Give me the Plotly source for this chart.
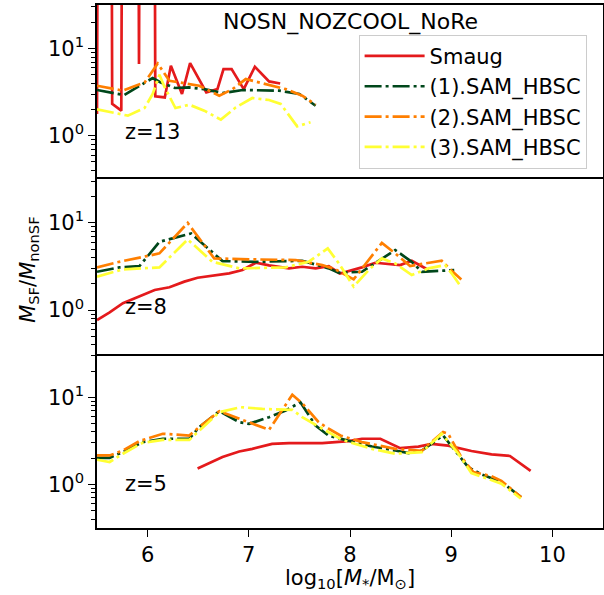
import plotly.graph_objects as go
from plotly.subplots import make_subplots

BIG = 1e30  # values far above the axis (drawn as vertical spikes)

# ---------------- z = 13 ----------------
x_smaug_z13 = [5.50, 5.58, 5.65, 5.74, 5.83, 5.915, 6.00, 6.076, 6.17, 6.23, 6.34, 6.42,
               6.58, 6.69, 6.75, 6.83, 6.95, 7.06, 7.20, 7.31]
y_smaug_z13 = [1.78, BIG, 2.32, 1.94, BIG, 6.64, BIG, 2.83, 2.75, 6.34, 3.01, 6.81,
               3.14, 3.43, 5.82, 5.82, 3.43, 6.18, 4.20, 3.98]
x_sam1_z13 = [5.50, 5.77, 5.95, 6.05, 6.13, 6.27, 6.41, 6.56, 6.74, 6.94, 7.30, 7.50, 7.66]
y_sam1_z13 = [3.35, 2.93, 3.92, 4.59, 4.08, 3.53, 3.58, 3.43, 3.09, 3.35, 3.29, 3.01, 2.21]
x_sam2_z13 = [5.50, 5.756, 5.97, 6.10, 6.216, 6.41, 6.51, 6.708, 6.84, 6.97, 7.10, 7.364, 7.528, 7.66]
y_sam2_z13 = [3.75, 3.29, 4.08, 6.74, 4.27, 3.92, 3.75, 2.88, 3.43, 4.47, 4.08, 3.43, 2.88, 2.27]
x_sam3_z13 = [5.50, 5.805, 5.97, 6.05, 6.117, 6.166, 6.275, 6.412, 6.56, 6.724, 6.872, 7.035,
              7.20, 7.315, 7.478, 7.61]
y_sam3_z13 = [2.01, 1.70, 2.08, 3.01, 5.00, 3.65, 2.08, 2.27, 1.94, 1.53, 2.12, 2.71,
              2.57, 2.32, 1.28, 1.43]

# ---------------- z = 8 ----------------
x_smaug_z8 = [5.50, 5.625, 5.756, 5.92, 6.07, 6.216, 6.363, 6.494, 6.658, 6.806, 6.937, 7.07,
              7.20, 7.397, 7.528, 7.66, 7.79, 7.90, 8.118, 8.25, 8.496, 8.61, 8.775]
y_smaug_z8 = [0.77, 0.94, 1.20, 1.45, 1.70, 1.83, 2.12, 2.35, 2.52, 2.64, 2.88, 3.49,
              3.26, 3.01, 3.14, 3.01, 3.20, 2.63, 3.09, 3.49, 3.29, 3.68, 2.88]
x_sam1_z8 = [5.50, 5.72, 5.92, 6.117, 6.43, 6.74, 7.07, 7.528, 7.79, 7.89, 8.118, 8.217,
             8.447, 8.61, 8.71, 8.92, 9.03]
y_sam1_z8 = [2.75, 3.09, 3.20, 6.07, 7.57, 3.65, 3.58, 3.68, 3.01, 2.68, 2.75, 3.29,
             4.88, 3.58, 2.75, 2.83, 2.88]
x_sam2_z8 = [5.50, 5.72, 5.99, 6.117, 6.396, 6.658, 7.003, 7.463, 7.725, 7.856, 8.036, 8.118,
             8.315, 8.447, 8.594, 8.742, 8.906, 8.99, 9.10]
y_sam2_z8 = [3.09, 3.58, 4.16, 4.47, 10.0, 3.92, 3.82, 3.75, 3.29, 2.93, 2.25, 3.01,
             5.90, 4.47, 3.20, 3.43, 3.68, 2.93, 2.25]
x_sam3_z8 = [5.50, 5.756, 6.117, 6.396, 6.64, 6.905, 7.364, 7.59, 7.78, 7.89, 8.036, 8.184,
             8.315, 8.447, 8.61, 8.775, 8.94, 9.004, 9.10]
y_sam3_z8 = [2.42, 2.93, 3.09, 6.46, 3.58, 3.01, 3.09, 3.58, 5.10, 3.43, 1.86, 2.88,
             3.92, 3.43, 2.52, 3.01, 3.29, 2.64, 1.83]

# ---------------- z = 5 ----------------
x_smaug_z5 = [6.494, 6.74, 6.905, 7.035, 7.23, 7.397, 7.725, 7.987, 8.118, 8.30, 8.496,
              8.676, 8.807, 8.97, 9.20, 9.398, 9.58, 9.785]
y_smaug_z5 = [1.52, 2.06, 2.39, 2.56, 2.92, 2.98, 2.98, 3.14, 3.34, 3.34, 2.61,
              2.72, 2.92, 2.78, 2.42, 2.21, 2.12, 1.43]
x_sam1_z5 = [5.50, 5.625, 5.756, 5.95, 6.15, 6.412, 6.51, 6.708, 6.905, 7.003, 7.20, 7.364,
             7.51, 7.66, 7.79, 7.987, 8.217, 8.447, 8.578, 8.71, 8.92, 9.037, 9.168, 9.30,
             9.496, 9.693]
y_sam1_z5 = [2.02, 2.02, 2.35, 3.06, 3.34, 3.34, 4.54, 6.92, 5.18, 4.95, 5.91, 7.03,
             8.77, 4.73, 3.61, 3.14, 2.72, 2.45, 2.29, 2.45, 3.64, 2.45, 1.58, 1.30,
             1.07, 0.71]
x_sam2_z5 = [5.50, 5.625, 5.756, 5.92, 6.15, 6.412, 6.51, 6.708, 7.20, 7.43, 7.528, 7.69,
             7.79, 7.905, 8.118, 8.447, 8.71, 8.775, 8.92, 8.97, 9.10, 9.217, 9.398,
             9.496, 9.693]
y_sam2_z5 = [2.15, 2.15, 2.45, 3.14, 3.81, 3.64, 4.54, 6.92, 4.23, 10.7, 8.53, 5.18,
             4.35, 3.64, 3.06, 2.56, 2.42, 2.87, 3.98, 3.81, 2.06, 1.39, 1.24,
             1.10, 0.71]
x_sam3_z5 = [5.50, 5.625, 5.756, 5.95, 6.15, 6.412, 6.708, 6.92, 7.134, 7.43, 7.528, 7.725,
             7.92, 8.217, 8.447, 8.71, 8.906, 9.07, 9.20, 9.496, 9.687]
y_sam3_z5 = [1.92, 1.81, 2.25, 3.00, 3.25, 3.25, 6.74, 7.69, 7.35, 7.16, 5.91, 4.35,
             3.25, 2.56, 2.25, 2.35, 3.81, 2.25, 1.35, 1.02, 0.69]

names = ["Smaug", "(1).SAM_HBSC", "(2).SAM_HBSC", "(3).SAM_HBSC"]
panels = [
    ("z=13", [(x_smaug_z13, y_smaug_z13), (x_sam1_z13, y_sam1_z13),
              (x_sam2_z13, y_sam2_z13), (x_sam3_z13, y_sam3_z13)]),
    ("z=8", [(x_smaug_z8, y_smaug_z8), (x_sam1_z8, y_sam1_z8),
             (x_sam2_z8, y_sam2_z8), (x_sam3_z8, y_sam3_z8)]),
    ("z=5", [(x_smaug_z5, y_smaug_z5), (x_sam1_z5, y_sam1_z5),
             (x_sam2_z5, y_sam2_z5), (x_sam3_z5, y_sam3_z5)]),
]
x_ticks = [6, 7, 8, 9, 10]
y_ticks = [1, 10]
y_ticktext = ["10<sup>0</sup>", "10<sup>1</sup>"]
y_minor = [0.4, 0.5, 0.6, 0.7, 0.8, 0.9, 2, 3, 4, 5, 6, 7, 8, 9, 20, 30]

colors = ["#e41a1c", "#00471b", "#ff7f00", "#ffff33"]
dashes = ["solid", "17px,4px,3px,4px", "17px,4px,3px,4px", "17px,4px,3px,4px"]

FONT = "DejaVu Sans"
fig = make_subplots(rows=3, cols=1, shared_xaxes=True, vertical_spacing=0)

for r, (zlabel, series) in enumerate(panels, start=1):
    for i, (xs, ys) in enumerate(series):
        fig.add_trace(go.Scatter(
            x=xs, y=ys, mode="lines", name=names[i],
            line=dict(color=colors[i], width=2.7, dash=dashes[i]),
            showlegend=(r == 1), legendgroup=names[i]), row=r, col=1)
    fig.add_annotation(text=zlabel, xref=f"x{'' if r == 1 else r} domain",
                       yref=f"y{'' if r == 1 else r} domain",
                       x=0.051, y=[0.271, 0.267, 0.252][r - 1], xanchor="left", yanchor="middle",
                       showarrow=False, font=dict(family=FONT, size=21, color="black"))
    fig.update_yaxes(type="log", range=[-0.5, 1.5], tickvals=y_ticks, ticktext=y_ticktext,
                     ticks="outside", ticklen=7, tickwidth=1.3, tickcolor="black",
                     minor=dict(tickvals=y_minor, ticks="outside", ticklen=4, tickwidth=1,
                                tickcolor="black", showgrid=False),
                     showline=True, mirror=True, linecolor="black", linewidth=1.5,
                     showgrid=False, zeroline=False, automargin=False,
                     tickfont=dict(family=FONT, size=21, color="black"), row=r, col=1)
    fig.update_xaxes(range=[5.5, 10.5], linecolor="black", linewidth=1.5,
                     showgrid=False, zeroline=False, automargin=False, row=r, col=1)

# frame lines: top of panel 1, both edges of panel 2, bottom of panel 3
fig.update_xaxes(showline=True, mirror=False, side="top", row=1, col=1)
fig.update_xaxes(showline=True, mirror=True, row=2, col=1)
fig.update_xaxes(showline=True, mirror=False, tickvals=x_ticks, ticks="outside", ticklen=7,
                 tickwidth=1.3, tickcolor="black",
                 tickfont=dict(family=FONT, size=21, color="black"), row=3, col=1)

fig.add_annotation(text="NOSN_NOZCOOL_NoRe", xref="paper", yref="paper", x=0.5, y=0.967,
                   xanchor="center", yanchor="middle", showarrow=False,
                   font=dict(family=FONT, size=22, color="black"))
fig.add_annotation(text="log<sub>10</sub>[<i>M</i><sub>*</sub>/M<sub>⊙</sub>]",
                   xref="paper", yref="paper", x=0.5, y=-0.097, xanchor="center",
                   yanchor="middle", showarrow=False, font=dict(family=FONT, size=21, color="black"))
fig.add_annotation(text="<i>M</i><sub>SF</sub>/<i>M</i><sub>nonSF</sub>",
                   xref="paper", yref="paper", x=-0.135, y=0.493, xanchor="center",
                   yanchor="middle", textangle=-90, showarrow=False,
                   font=dict(family=FONT, size=21, color="black"))

fig.update_layout(
    width=604, height=595, margin=dict(l=97, r=1, t=5, b=67, autoexpand=False),
    paper_bgcolor="white", plot_bgcolor="white",
    font=dict(family=FONT, size=21, color="black"),
    legend=dict(x=0.517, y=0.943, xanchor="left", yanchor="top", itemwidth=60,
                bgcolor="rgba(255,255,255,0.8)", bordercolor="#cccccc", borderwidth=1,
                font=dict(family=FONT, size=21, color="black"), tracegroupgap=0),
)
fig.write_html("out.html", config={"displayModeBar": False},
               post_script="document.body.style.margin='0px';document.body.style.overflow='hidden';")
